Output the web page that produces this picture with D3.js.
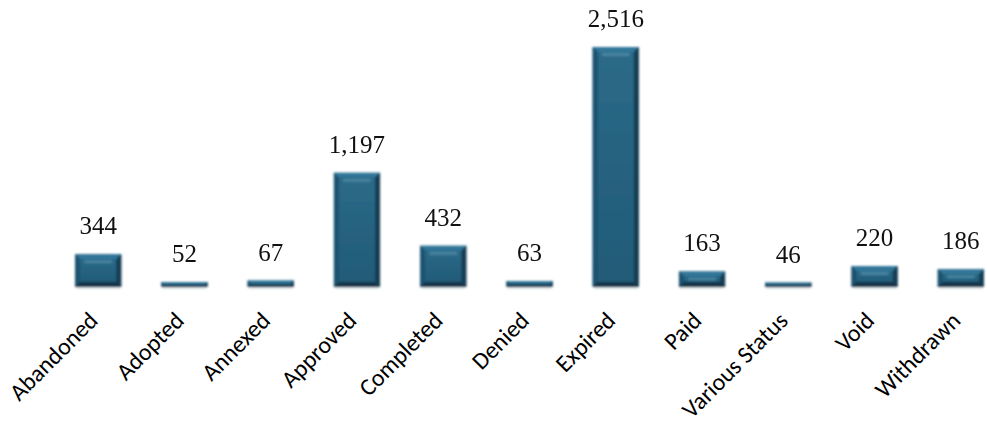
<!DOCTYPE html>
<html><head><meta charset="utf-8">
<script src="https://cdn.jsdelivr.net/npm/d3@7"></script>
<style>body{margin:0;background:#fff}svg{display:block}</style>
</head><body>
<script>
const categories = ["Abandoned","Adopted","Annexed","Approved","Completed","Denied","Expired","Paid","Various Status","Void","Withdrawn"];
const values = [344,52,67,1197,432,63,2516,163,46,220,186];

const W = 987, H = 425;
const svg = d3.select("body").append("svg").attr("width", W).attr("height", H);
const baseline = 287;
const x = d3.scaleBand().domain(categories).range([55, 1004]).paddingInner(0.465).paddingOuter(0.233);
const y = d3.scaleLinear().domain([0, 2516]).range([baseline, 47]);

const defs = svg.append("defs");
const g1 = defs.append("linearGradient").attr("id","face").attr("x1",0).attr("y1",0).attr("x2",0).attr("y2",1);
g1.append("stop").attr("offset","0%").attr("stop-color","#2b6a88");
g1.append("stop").attr("offset","100%").attr("stop-color","#215b78");
const gs = defs.append("linearGradient").attr("id","shadow").attr("x1",0).attr("y1",0).attr("x2",0).attr("y2",1);
gs.append("stop").attr("offset","0%").attr("stop-color","#a9bac4").attr("stop-opacity",0.7);
gs.append("stop").attr("offset","100%").attr("stop-color","#ffffff").attr("stop-opacity",0);
defs.append("filter").attr("id","soft").append("feGaussianBlur").attr("stdDeviation",0.9);

const bw = x.bandwidth();
const bars = svg.append("g").attr("filter","url(#soft)").selectAll("g").data(categories).join("g");
bars.each(function(c, i) {
  const g = d3.select(this);
  const x0 = x(c), x1 = x0 + bw, y0 = y(values[i]), y1 = baseline;
  const h = y1 - y0;
  const b = Math.min(5, h / 2.5);
  g.append("rect").attr("x", x0 + 1).attr("y", y1).attr("width", bw - 2).attr("height", 4).attr("fill", "url(#shadow)");
  g.append("rect").attr("x", x0).attr("y", y0).attr("width", bw).attr("height", h).attr("fill", "#17445c");
  g.append("polygon").attr("points", [[x0,y0],[x1,y0],[x1-b,y0+b],[x0+b,y0+b]].join(" ")).attr("fill", "#33779a");
  g.append("polygon").attr("points", [[x0,y0],[x0+b,y0+b],[x0+b,y1-b],[x0,y1]].join(" ")).attr("fill", "#1c5270");
  g.append("polygon").attr("points", [[x1,y0],[x1-b,y0+b],[x1-b,y1-b],[x1,y1]].join(" ")).attr("fill", "#143c52");
  g.append("polygon").attr("points", [[x0,y1],[x0+b,y1-b],[x1-b,y1-b],[x1,y1]].join(" ")).attr("fill", "#123649");
  g.append("rect").attr("x", x0 + b).attr("y", y0 + b).attr("width", Math.max(0, bw - 2*b)).attr("height", Math.max(0, h - 2*b)).attr("fill", "url(#face)");
  if (h > 14) {
    g.append("rect").attr("x", x0 + b + 4).attr("y", y0 + b + 1).attr("width", Math.max(0, bw - 2*b - 8)).attr("height", 3)
      .attr("rx", 1.5).attr("fill", "#5b97b3").attr("opacity", 0.6);
  }
});

svg.append("g").selectAll("text").data(categories).join("text")
  .attr("x", c => x(c) + bw / 2)
  .attr("y", (c, i) => y(values[i]) - 20)
  .attr("text-anchor", "middle")
  .attr("font-family", "'Liberation Serif', 'DejaVu Serif', serif")
  .attr("font-size", 25)
  .attr("fill", "#111")
  .text((c, i) => d3.format(",")(values[i]));

svg.append("g").selectAll("text").data(categories).join("text")
  .attr("transform", c => `translate(${x(c) + bw / 2 + 1},${baseline + 35}) rotate(-45)`)
  .attr("text-anchor", "end")
  .attr("font-family", "Carlito, Lato, 'Open Sans', sans-serif")
  .attr("font-size", 24)
  .attr("fill", "#000")
  .text(c => c);
</script>
</body></html>
